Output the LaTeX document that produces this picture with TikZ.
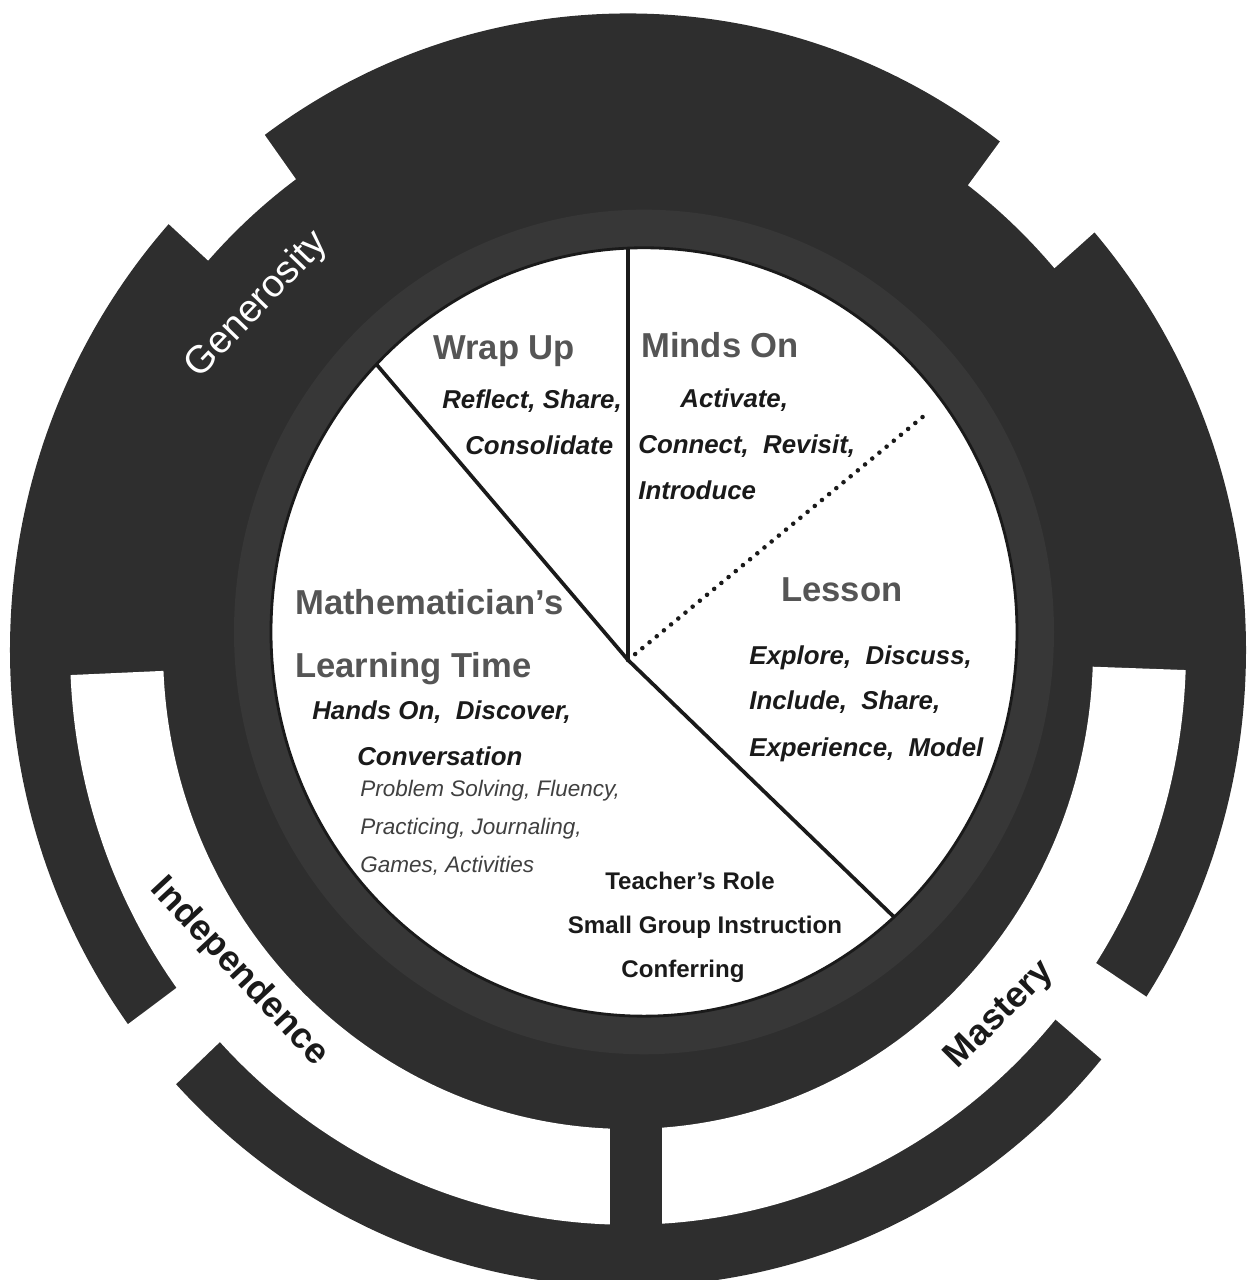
\documentclass[tikz,border=0pt]{standalone}
\usepackage{fontspec}
\setmainfont{Liberation Sans}
\usetikzlibrary{positioning}
\definecolor{ring}{HTML}{2E2E2E}
\definecolor{ringlight}{HTML}{373737}
\definecolor{phasegray}{HTML}{555555}
\definecolor{memogray}{HTML}{404040}
\definecolor{ink}{HTML}{1A1A1A}
\tikzset{
    %Define style for the white cuts in the ring
    ringcut/.style n args={4}{
        insert path={(#1:#3) arc[start angle=#1, end angle=#2, radius=#3]
            -- (#2:#4) arc[start angle=#2, end angle=#1, radius=#4] -- cycle}
    },
    %Define style for the phase titles
    phase/.style={
        inner sep=0pt,
        anchor=base west,
        text=phasegray,
        font=\fontsize{19.7}{24}\selectfont\bfseries
    },
    %Define style for the italic keywords
    task/.style={
        inner sep=0pt,
        anchor=base west,
        text=ink,
        font=\fontsize{14.7}{18}\selectfont\bfseries\itshape
    },
    %Define style for the small notes
    memo/.style={
        inner sep=0pt,
        anchor=base west,
        text=memogray,
        font=\fontsize{12.8}{16}\selectfont\itshape
    },
    % Define style for the words on the ring
    courage/.style={
        inner sep=0pt,
        font=\fontsize{20.5}{24}\selectfont\bfseries
    }
}

\begin{document}
\begin{tikzpicture}[x=0.02cm, y=0.02cm,
        divider/.style={draw=ink, line width=2.1pt},
        dotline/.style={draw=ink, line width=2.6pt, line cap=round, dash pattern=on 0pt off 5.3pt},
        role/.style={inner sep=0pt, anchor=base, text=ink, font=\fontsize{13.7}{16}\selectfont\bfseries}]
    \useasboundingbox (-628,-630) rectangle (621,650);
    % ring with notches and slots
    \begin{scope}[yscale=1.03]
        \fill[ring] (0,0) circle (618);
        \fill[white, ringcut={126}{138}{565}{650}];
        \fill[white, ringcut={41}{53}{565}{650}];
        \fill[white, ringcut={182.5}{270}{465}{558}];
        \fill[white, ringcut={270}{358}{465}{558}];
        \fill[white, ringcut={216}{223}{550}{650}];
        \fill[white, ringcut={320}{327}{550}{650}];
        \fill[ring] (-18,-440) rectangle (34,-580);
        \fill[ringlight] (16,17.5) circle (410);
        \fill[white, draw=ink, line width=1.6pt] (16,17.5) circle (373);
    \end{scope}
    % dividers
    \coordinate (c) at (0,-10);
    \coordinate (t) at (0,402);
    \coordinate (ul) at (-251,285);
    \coordinate (lr) at (266,-267);
    \coordinate (dt) at (297,235);
    \draw[divider] (c) -- (t);
    \draw[divider] (c) -- (ul);
    \draw[divider] (c) -- (lr);
    \draw[dotline] (c) -- (dt);
    % phases
    \node[phase] (wrap) at (-195,290) {Wrap Up};
    \node[task] (reflect) at (-186,241) {Reflect, Share,};
    \node[task] (consolidate) at (-163,195) {Consolidate};
    \node[phase] (minds) at (13,292) {Minds On};
    \node[task] (activate) at (52,242) {Activate,};
    \node[task] (connect) at (10,196) {Connect,~~Revisit,};
    \node[task] (introduce) at (10,150) {Introduce};
    \node[phase] (lesson) at (153,48) {Lesson};
    \node[task] (explore) at (121,-15) {Explore,~~Discuss,};
    \node[task, below=0.9cm of explore.base west, anchor=base west] (include) {Include,~~Share,};
    \node[task, below=0.94cm of include.base west, anchor=base west] (experience) {Experience,~~Model};
    \node[phase] (math) at (-333,35) {Mathematician's};
    \node[phase] (learning) at (-333,-28) {Learning Time};
    \node[task] (hands) at (-316,-70) {Hands On,~~Discover,};
    \node[task] (conversation) at (-271,-115) {Conversation};
    \node[memo] (problem) at (-268,-147) {Problem Solving, Fluency,};
    \node[memo, below=0.76cm of problem.base west, anchor=base west] (practicing) {Practicing, Journaling,};
    \node[memo, below=0.76cm of practicing.base west, anchor=base west] (games) {Games, Activities};
    \node[role] (teacher) at (62,-239) {Teacher's Role};
    \node[role] (group) at (77,-283) {Small Group Instruction};
    \node[role] (conferring) at (55,-327) {Conferring};
    % words on the ring
    \node[courage, text=white, font=\fontsize{22}{26}\selectfont, rotate=46] (generosity) at (-371,345) {Generosity};
    \node[courage, text=ink, rotate=-47] (independence) at (-389,-322) {Independence};
    \node[courage, text=ink, rotate=45] (mastery) at (372,-365) {Mastery};
\end{tikzpicture}
\end{document}
